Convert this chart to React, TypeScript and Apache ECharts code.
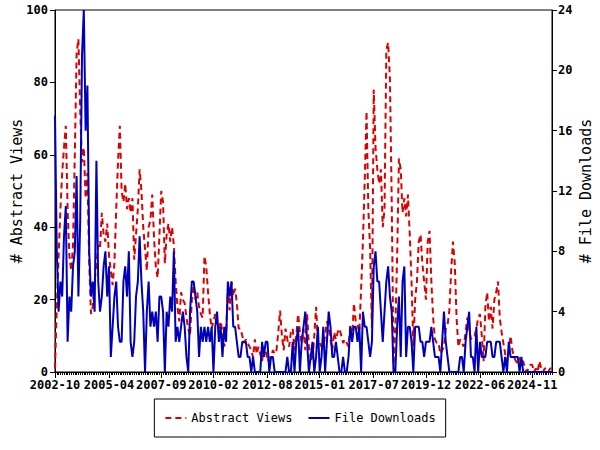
import { useEffect, useRef } from "react";
import * as echarts from "echarts";

const START_YEAR = 2002;
const START_MONTH = 10;
const MONTH_COUNT = 277;

const months: string[] = [];
for (let i = 0; i < MONTH_COUNT; i++) {
  const m = START_MONTH - 1 + i;
  const y = START_YEAR + Math.floor(m / 12);
  const mm = (m % 12) + 1;
  months.push(`${y}-${String(mm).padStart(2, "0")}`);
}

const tickLabels = [
  "2002-10", "2005-04", "2007-09", "2010-02", "2012-08",
  "2015-01", "2017-07", "2019-12", "2022-06", "2024-11",
];

const abstractViews = [
  1, 18, 32, 45, 55, 62, 68, 45, 32, 28, 35, 60,
  88, 92, 72, 58, 62, 48, 55, 30, 16, 18, 25, 30,
  35, 34, 44, 38, 36, 41, 32, 28, 24, 30, 45, 58,
  68, 50, 47, 52, 45, 48, 44, 48, 31, 38, 45, 56,
  50, 40, 34, 28, 40, 42, 49, 37, 29, 26, 38, 50,
  47, 30, 38, 41, 36, 40, 35, 25, 18, 14, 22, 20,
  19, 15, 12, 10, 20, 24, 20, 22, 18, 16, 15, 32,
  29, 22, 16, 12, 14, 16, 13, 12, 14, 11, 7, 10,
  23, 17, 25, 21, 23, 19, 12, 12, 10, 8, 9, 8,
  7, 6, 4, 9, 5, 7, 5, 3, 7, 6, 3, 4,
  4, 6, 5, 6, 11, 17, 10, 6, 12, 9, 7, 11,
  12, 6, 10, 16, 11, 8, 12, 6, 16, 7, 4, 3,
  10, 18, 8, 8, 7, 7, 10, 14, 12, 9, 6, 11,
  9, 11, 12, 10, 8, 9, 8, 7, 13, 9, 19, 14,
  13, 11, 23, 36, 53, 72, 45, 34, 12, 78, 62, 56,
  52, 56, 40, 45, 89, 91, 81, 47, 2, 12, 32, 59,
  56, 44, 48, 43, 49, 38, 25, 7, 20, 25, 36, 38,
  30, 25, 20, 36, 39, 25, 15, 9, 8, 8, 5, 6,
  7, 12, 13, 17, 28, 36, 30, 15, 7, 9, 8, 7,
  11, 15, 12, 9, 10, 10, 12, 15, 16, 10, 3, 18,
  22, 14, 18, 12, 20, 22, 25, 15, 11, 8, 5, 3,
  6, 10, 6, 4, 3, 2, 4, 3, 3, 1, 0, 1,
  2, 2, 0, 1, 0, 3, 1, 0, 1, 1, 0, 1, 1,
];

const fileDownloads = [
  17, 8, 4, 6, 5, 9, 11, 2, 5, 4, 7, 8,
  13, 5, 10, 21, 24, 16, 19, 8, 5, 6, 4, 14,
  6, 4, 5, 7, 8, 5, 7, 1, 3, 5, 6, 3,
  2, 2, 6, 7, 5, 8, 2, 1, 2, 5, 6, 9,
  6, 4, 0, 4, 6, 3, 4, 3, 4, 2, 5, 5,
  4, 0, 4, 3, 5, 4, 8, 2, 3, 2, 3, 4,
  3, 1, 0, 4, 6, 6, 5, 4, 1, 3, 2, 3,
  2, 3, 2, 3, 0, 3, 4, 2, 3, 1, 3, 2,
  6, 5, 6, 3, 3, 2, 1, 1, 2, 2, 2, 1,
  1, 0, 1, 0, 0, 0, 0, 2, 1, 2, 2, 0,
  1, 1, 0, 0, 0, 0, 0, 0, 0, 1, 0, 0,
  2, 0, 2, 3, 0, 2, 3, 4, 2, 0, 1, 2,
  0, 1, 3, 0, 1, 3, 0, 2, 4, 3, 1, 1,
  2, 1, 0, 0, 1, 0, 0, 1, 3, 2, 3, 3,
  2, 3, 0, 4, 3, 3, 2, 1, 2, 7, 8, 6,
  6, 4, 2, 4, 6, 7, 5, 4, 0, 0, 3, 5,
  1, 6, 7, 1, 3, 3, 2, 0, 3, 3, 3, 2,
  2, 1, 2, 2, 2, 3, 2, 1, 1, 1, 0, 2,
  4, 2, 1, 0, 0, 0, 0, 0, 0, 1, 1, 0,
  2, 3, 4, 1, 1, 0, 3, 0, 2, 1, 1, 1,
  2, 2, 2, 1, 1, 2, 2, 2, 1, 0, 1, 0,
  2, 1, 1, 1, 1, 1, 0, 1, 0, 0, 0, 0,
  0, 0, 0, 0, 0, 0, 0, 0, 0, 0, 0, 0, 0,
];

const MONO = "DejaVu Sans Mono";
const RED = "#dd0000";
const BLUE = "#0000bb";

export default function App() {
  const ref = useRef<HTMLDivElement>(null);
  useEffect(() => {
    document.body.style.margin = "0";
    if (!ref.current) return;
    const chart = echarts.init(ref.current, null, { renderer: "svg" });
    const isLabel = (_i: number, v: string) => tickLabels.includes(v);
    const axisLabelStyle = {
      fontFamily: MONO,
      fontSize: 12,
      fontWeight: "bold" as const,
      color: "#000",
    };
    chart.setOption({
      animation: false,
      backgroundColor: "#fff",
      textStyle: { fontFamily: MONO },
      grid: {
        left: 55,
        right: 48,
        top: 10,
        bottom: 78,
        containLabel: false,
        outerBoundsMode: "none",
        show: true,
        borderColor: "#000",
        borderWidth: 1,
      },
      legend: {
        top: 399,
        left: "center",
        padding: [13, 10],
        borderColor: "#000",
        borderWidth: 1,
        itemWidth: 21,
        itemHeight: 12,
        itemGap: 15,
        itemStyle: { opacity: 0 },
        textStyle: { fontFamily: MONO, fontSize: 12, color: "#000" },
        data: ["Abstract Views", "File Downloads"],
      },
      xAxis: [
        {
          type: "category",
          data: months,
          boundaryGap: false,
          position: "bottom",
          axisLine: { lineStyle: { color: "#000", width: 1 } },
          axisTick: { interval: 0, length: 3, lineStyle: { color: "#000" } },
          axisLabel: { ...axisLabelStyle, interval: isLabel, margin: 7 },
          splitLine: { show: false },
        },
        {
          type: "category",
          data: months,
          boundaryGap: false,
          position: "bottom",
          axisLine: { show: false },
          axisTick: { interval: isLabel, length: 6, lineStyle: { color: "#000" } },
          axisLabel: { show: false },
          splitLine: { show: false },
        },
      ],
      yAxis: [
        {
          type: "value",
          min: 0,
          max: 100,
          interval: 20,
          position: "left",
          name: "# Abstract Views",
          nameLocation: "middle",
          nameRotate: 90,
          nameGap: 31,
          nameMoveOverlap: false,
          nameTextStyle: { fontFamily: MONO, fontSize: 15, color: "#000" },
          axisLine: { show: true, lineStyle: { color: "#000" } },
          axisTick: { show: true, length: 5, lineStyle: { color: "#000" } },
          axisLabel: { ...axisLabelStyle, margin: 7 },
          splitLine: { show: false },
        },
        {
          type: "value",
          min: 0,
          max: 24,
          interval: 4,
          position: "right",
          name: "# File Downloads",
          nameLocation: "middle",
          nameRotate: 90,
          nameGap: 26,
          nameMoveOverlap: false,
          nameTextStyle: { fontFamily: MONO, fontSize: 15, color: "#000" },
          axisLine: { show: true, lineStyle: { color: "#000" } },
          axisTick: { show: true, length: 5, lineStyle: { color: "#000" } },
          axisLabel: { ...axisLabelStyle, margin: 6 },
          splitLine: { show: false },
        },
      ],
      series: [
        {
          name: "Abstract Views",
          type: "line",
          xAxisIndex: 0,
          yAxisIndex: 0,
          data: abstractViews,
          symbol: "none",
          color: RED,
          lineStyle: { color: RED, width: 2, type: [6, 4] },
        },
        {
          name: "File Downloads",
          type: "line",
          xAxisIndex: 0,
          yAxisIndex: 1,
          data: fileDownloads,
          symbol: "none",
          color: BLUE,
          lineStyle: { color: BLUE, width: 2 },
        },
      ],
    });
    return () => chart.dispose();
  }, []);
  return <div ref={ref} style={{ width: 600, height: 450 }} />;
}
